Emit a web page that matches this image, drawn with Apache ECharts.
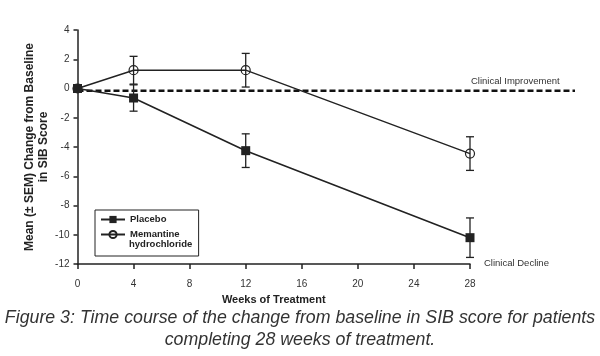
<!DOCTYPE html>
<html>
<head>
<meta charset="utf-8">
<script src="https://cdn.jsdelivr.net/npm/echarts@6/dist/echarts.min.js"></script>
<style>
html,body{margin:0;padding:0;background:#fff;}
#chart{width:600px;height:356px;}
</style>
</head>
<body>
<div id="chart"></div>
<script>
// ---- data ----
const weeks = [0, 4, 12, 28];
const placeboMean = [0, -0.65, -4.25, -10.2];
const placeboSem  = [0, 0.9, 1.15, 1.35];
const memantineMean = [0, 1.25, 1.25, -4.45];
const memantineSem  = [0, 0.95, 1.15, 1.15];
const xTicks = [0, 4, 8, 12, 16, 20, 24, 28];
const yTicks = [-12, -10, -8, -6, -4, -2, 0, 2, 4];
const seriesNames = ['Placebo', 'Memantine hydrochloride'];
const refLineValue = -0.15;     // dashed "no change" line
const refLineEndWeek = 35.5;    // the dashed line runs past week 28
const captionLines = ['Figure 3: Time course of the change from baseline in SIB score for patients',
                      'completing 28 weeks of treatment.'];

const ink = '#222';
const chart = echarts.init(document.getElementById('chart'), null, {renderer: 'canvas'});

function errData(means, sems) {
  const out = [];
  weeks.forEach((w, i) => { if (sems[i] > 0) out.push([w, means[i] - sems[i], means[i] + sems[i]]); });
  return out;
}
function errRender(params, api) {
  const x = api.value(0);
  const lo = api.coord([x, api.value(1)]);
  const hi = api.coord([x, api.value(2)]);
  const h = 4;
  const st = {stroke: ink, lineWidth: 1.3};
  return {type: 'group', children: [
    {type: 'line', shape: {x1: lo[0], y1: lo[1], x2: hi[0], y2: hi[1]}, style: st},
    {type: 'line', shape: {x1: lo[0] - h, y1: lo[1], x2: lo[0] + h, y2: lo[1]}, style: st},
    {type: 'line', shape: {x1: hi[0] - h, y1: hi[1], x2: hi[0] + h, y2: hi[1]}, style: st}
  ]};
}

const fontTick = {fontFamily: 'Liberation Sans', fontSize: 10, color: '#333'};
const legendFont = {fontFamily: 'Liberation Sans', fontSize: 9.5, fontWeight: 'bold', color: ink};

chart.setOption({
  animation: false,
  grid: [
    {left: 77.5, right: 130, top: 30, bottom: 92},
    {left: 77.5, right: 25, top: 30, bottom: 92}
  ],
  xAxis: [{
    type: 'value', gridIndex: 0, min: xTicks[0], max: xTicks[xTicks.length - 1], interval: 4,
    axisLine: {onZero: false, lineStyle: {color: ink, width: 1.5}},
    axisTick: {show: true, length: 5, lineStyle: {color: ink, width: 1.5}},
    axisLabel: Object.assign({margin: 15}, fontTick),
    splitLine: {show: false},
    name: 'Weeks of Treatment', nameLocation: 'middle', nameGap: 30,
    nameTextStyle: {fontFamily: 'Liberation Sans', fontSize: 11, fontWeight: 'bold', color: ink}
  }, {
    type: 'value', gridIndex: 1, min: 0, max: refLineEndWeek, show: false
  }],
  yAxis: [{
    type: 'value', gridIndex: 0, min: yTicks[0], max: yTicks[yTicks.length - 1], interval: 2,
    axisLine: {show: true, onZero: false, lineStyle: {color: ink, width: 1.5}},
    axisTick: {show: true, length: 4, lineStyle: {color: ink, width: 1.5}},
    axisLabel: Object.assign({margin: 8}, fontTick),
    splitLine: {show: false},
    name: 'Mean (\u00b1 SEM) Change from Baseline\nin SIB Score', nameLocation: 'middle', nameGap: 27,
    nameMoveOverlap: false,
    nameRotate: 90,
    nameTextStyle: {fontFamily: 'Liberation Sans', fontSize: 12, fontWeight: 'bold', color: ink, lineHeight: 14}
  }, {
    type: 'value', gridIndex: 1, min: yTicks[0], max: yTicks[yTicks.length - 1], show: false
  }],
  legend: {
    orient: 'vertical', left: 95, top: 210,
    data: seriesNames,
    borderColor: ink, borderWidth: 1, borderRadius: 0,
    padding: [4, 19, 16, 5], itemGap: 4, itemWidth: 24, itemHeight: 9,
    formatter: n => n === 'Memantine hydrochloride' ? 'Memantine' : n,
    textStyle: Object.assign({lineHeight: 11}, legendFont)
  },
  graphic: [
    {type: 'text', left: 129, top: 239, z: 10, style: {text: 'hydrochloride',
      font: 'bold 9.5px "Liberation Sans"', fill: ink}},
    {type: 'text', left: 471, top: 76, style: {text: 'Clinical Improvement', fontFamily: 'Liberation Sans', fontSize: 9.5, fill: '#333'}},
    {type: 'text', left: 484, top: 258, style: {text: 'Clinical Decline', fontFamily: 'Liberation Sans', fontSize: 9.5, fill: '#333'}},
    {type: 'text', x: 300, y: 307, scaleX: 0.935, style: {text: captionLines.join('\n'), textAlign: 'center', textVerticalAlign: 'top',
      fontFamily: 'Liberation Sans', fontStyle: 'italic', fontSize: 19, lineHeight: 22, fill: '#333'}}
  ],
  series: [
    {
      type: 'line', xAxisIndex: 1, yAxisIndex: 1, silent: true, symbol: 'none', z: 1,
      data: [[0, refLineValue], [refLineEndWeek, refLineValue]],
      lineStyle: {color: '#111', width: 2.5, type: [6, 3]}
    },
    {
      type: 'custom', name: 'memErr', renderItem: errRender, data: errData(memantineMean, memantineSem), z: 2
    },
    {
      type: 'custom', name: 'plaErr', renderItem: errRender, data: errData(placeboMean, placeboSem), z: 2
    },
    {
      type: 'line', name: seriesNames[1], z: 3,
      data: weeks.map((w, i) => [w, memantineMean[i]]),
      symbol: 'circle', symbolSize: 9,
      lineStyle: {color: ink, width: 1.4},
      itemStyle: {color: 'rgba(255,255,255,0)', borderColor: ink, borderWidth: 1.2}
    },
    {
      type: 'line', name: seriesNames[0], z: 4,
      data: weeks.map((w, i) => [w, placeboMean[i]]),
      symbol: 'rect', symbolSize: 9,
      lineStyle: {color: ink, width: 1.6},
      itemStyle: {color: ink}
    }
  ]
});
</script>
</body>
</html>
